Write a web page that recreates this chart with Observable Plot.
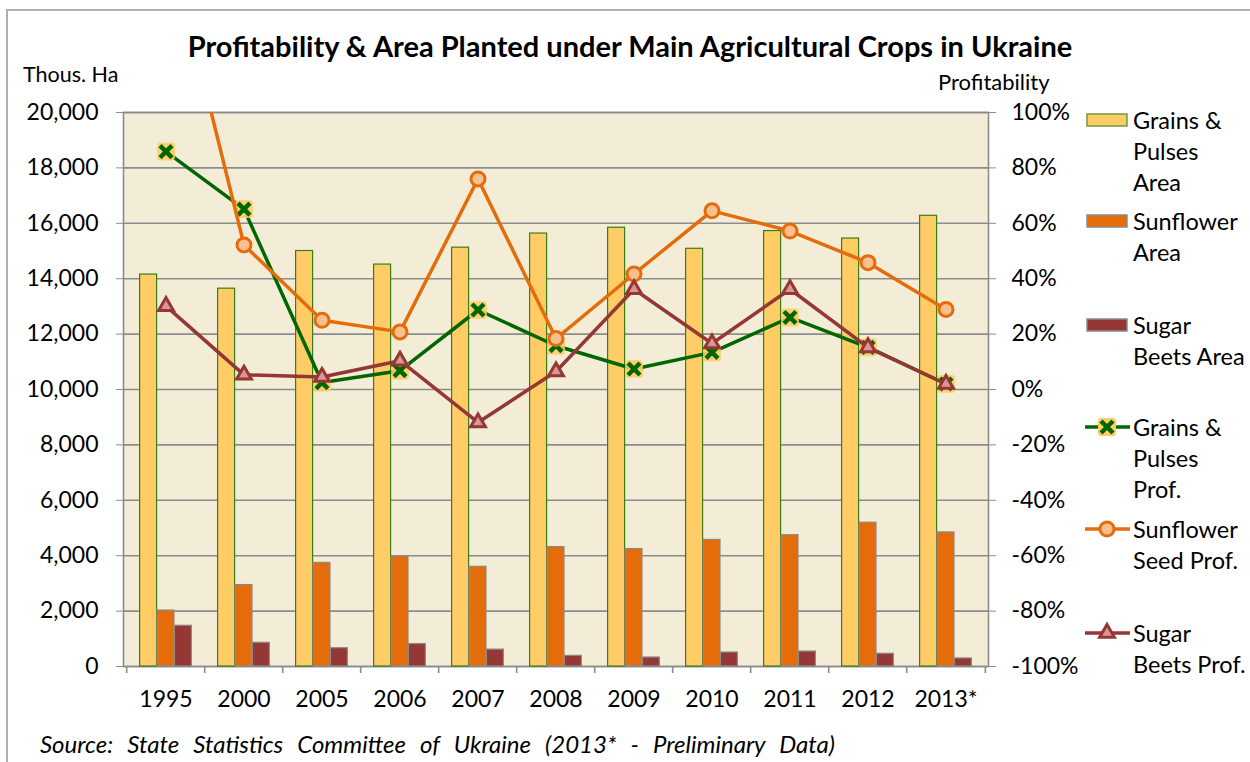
<!DOCTYPE html>
<html><head><meta charset="utf-8">
<script src="https://cdn.jsdelivr.net/npm/d3@7"></script>
<script src="https://cdn.jsdelivr.net/npm/@observablehq/plot@0.6"></script>
<style>
body{margin:0;background:#fff;font-family:Lato,"Open Sans",sans-serif;color:#000;}
#wrap{position:relative;width:1250px;height:762px;overflow:hidden;background:#fff;}
#frame{position:absolute;left:6px;top:9px;width:1400px;height:900px;border-left:2px solid #b0b0b0;border-top:2px solid #b0b0b0;}
#chart{position:absolute;left:0;top:0;}
.t{position:absolute;white-space:nowrap;line-height:1;}
#title{left:0;width:1260px;text-align:center;top:31px;font-weight:700;font-size:29px;}
#ylab{left:23px;top:64px;font-size:21.5px;}
#y2lab{left:938px;top:71px;font-size:22px;}
#source{left:40px;top:732px;width:795px;font-style:italic;font-size:24px;text-align:justify;text-align-last:justify;white-space:normal;}
.leg{position:absolute;left:1133px;font-size:23.5px;line-height:31px;white-space:nowrap;}
.sw{position:absolute;left:1082px;}
</style></head><body>
<div id="wrap">
  <div id="frame"></div>
  <div id="chart"></div>
  <div class="t" id="title">Profitability &amp; Area Planted under Main Agricultural Crops in Ukraine</div>
  <div class="t" id="ylab">Thous. Ha</div>
  <div class="t" id="y2lab">Profitability</div>
  <div class="t" id="source">Source: State Statistics Committee of Ukraine (2013* - Preliminary Data)</div>
</div>
<script>
// ---- data ----
const years = ["1995","2000","2005","2006","2007","2008","2009","2010","2011","2012","2013*"];
const grainsArea    = [14150,13640,15000,14510,15120,15630,15840,15080,15720,15450,16270];
const sunflowerArea = [2020,2940,3740,3970,3600,4310,4240,4570,4740,5190,4840];
const sugarArea     = [1470,856,660,810,610,385,325,505,540,460,290];
const grainsProf    = [85.9,65.1,2.5,6.8,28.7,15.8,7.4,13.4,26.0,15.2,2.0];
const sunflowerProf = [166,52.2,25.0,20.8,76.0,18.4,41.7,64.5,57.2,45.8,28.9];
const sugarProf     = [30.1,5.3,4.5,10.4,-11.9,6.5,36.2,16.6,36.2,15.2,2.0];
const areaTicks = [0,2000,4000,6000,8000,10000,12000,14000,16000,18000,20000];
const profTicks = [-100,-80,-60,-40,-20,0,20,40,60,80,100];
const legendLabels = [
  ["Grains &", "Pulses", "Area"],
  ["Sunflower", "Area"],
  ["Sugar", "Beets Area"],
  ["Grains &", "Pulses", "Prof."],
  ["Sunflower", "Seed Prof."],
  ["Sugar", "Beets Prof."]
];

// ---- layout / style ----
const W = 1250, H = 762, ML = 123, MR = 262, MT = 112, MB = 96;
const step = (W - ML - MR) / years.length;
const bw = 17.4;
const pI = 1 - bw / step;
const C = {
  bg: "#F3EDD7", grid: "#8C8C8C",
  grainFill: "#FFCC66", grainStroke: "#3C7D14",
  sunFill: "#E46C0A", sugarFill: "#953735", barStroke: "#8A8A8A",
  green: "#006600", orange: "#E46C0A", maroon: "#953735",
  circleFill: "#FAC090", triFill: "#D99694"
};
// profitability (%) mapped onto the area axis
const pToY = p => (p + 100) * 100;

const rows = years.map((year, i) => ({
  year, grains: grainsArea[i], sunflower: sunflowerArea[i], sugar: sugarArea[i],
  gp: pToY(grainsProf[i]), sp: pToY(sunflowerProf[i]), bp: pToY(sugarProf[i])
}));

const roundSquare = {draw(ctx, size) {
  const s = Math.sqrt(size) / 2, r = s * 0.35;
  ctx.moveTo(-s + r, -s); ctx.lineTo(s - r, -s); ctx.arcTo(s, -s, s, -s + r, r);
  ctx.lineTo(s, s - r); ctx.arcTo(s, s, s - r, s, r);
  ctx.lineTo(-s + r, s); ctx.arcTo(-s, s, -s, s - r, r);
  ctx.lineTo(-s, -s + r); ctx.arcTo(-s, -s, -s + r, -s, r); ctx.closePath();
}};

const plotH = H - MT - MB;
const chart = Plot.plot({
  width: W, height: H, marginLeft: ML, marginRight: MR, marginTop: MT, marginBottom: MB,
  style: {fontFamily: "Lato, 'Open Sans', sans-serif", fontSize: "23px", color: "#000", background: "transparent", overflow: "visible"},
  x: {type: "band", domain: years, paddingInner: pI, paddingOuter: pI / 2, label: null},
  y: {domain: [0, 20000], label: null},
  marks: [
    Plot.frame({fill: C.bg, stroke: null}),
    Plot.ruleY(areaTicks, {stroke: C.grid, strokeWidth: 1.6}),
    Plot.frame({stroke: C.grid, strokeWidth: 1.6}),
    Plot.axisY({anchor: "left", ticks: areaTicks, tickFormat: d3.format(","), tickSize: 7, tickPadding: 18, stroke: C.grid, fill: "#000", fontSize: 23, label: null}),
    Plot.axisY({anchor: "right", ticks: profTicks.map(pToY), tickFormat: v => Math.round(v / 100 - 100) + "%", tickSize: 7, tickPadding: 16, stroke: C.grid, fill: "#000", fontSize: 23, label: null}),
    Plot.axisX({tickSize: 0, tickPadding: 24, fill: "#000", fontSize: 23, label: null}),
    Plot.ruleX(years, {x: d => d, dx: -step / 2, insetTop: plotH, insetBottom: -7, stroke: C.grid, strokeWidth: 1.6}),
    Plot.ruleX(years.slice(-1), {x: d => d, dx: step / 2, insetTop: plotH, insetBottom: -7, stroke: C.grid, strokeWidth: 1.6}),
    Plot.barY(rows, {x: "year", y: "grains", dx: -bw, fill: C.grainFill, stroke: C.grainStroke, strokeWidth: 1.2}),
    Plot.barY(rows, {x: "year", y: "sunflower", fill: C.sunFill, stroke: C.barStroke, strokeWidth: 1.2}),
    Plot.barY(rows, {x: "year", y: "sugar", dx: bw, fill: C.sugarFill, stroke: C.barStroke, strokeWidth: 1.2}),
    Plot.line(rows, {x: "year", y: "gp", stroke: C.green, strokeWidth: 3.5, clip: true}),
    Plot.dot(rows, {x: "year", y: "gp", symbol: roundSquare, r: 10, fill: C.grainFill, fillOpacity: 0.9}),
    Plot.dot(rows, {x: "year", y: "gp", symbol: "times", r: 5.5, stroke: C.green, strokeWidth: 4.5}),
    Plot.line(rows, {x: "year", y: "sp", stroke: C.orange, strokeWidth: 3.5, clip: true}),
    Plot.dot(rows, {x: "year", y: "sp", r: 7, fill: C.circleFill, stroke: C.orange, strokeWidth: 3, clip: true}),
    Plot.line(rows, {x: "year", y: "bp", stroke: C.maroon, strokeWidth: 3.5, clip: true}),
    Plot.dot(rows, {x: "year", y: "bp", symbol: "triangle", r: 5.5, fill: C.triFill, stroke: C.maroon, strokeWidth: 3})
  ]
});
document.getElementById("chart").appendChild(chart);

// ---- legend ----
const wrap = d3.select("#wrap");
const legendTops = [120, 221, 325, 427, 529, 633];
const swatch = [
  g => g.append("rect").attr("x", 5).attr("y", -6).attr("width", 40).attr("height", 12).attr("fill", C.grainFill).attr("stroke", "#6B9A3A").attr("stroke-width", 1.5),
  g => g.append("rect").attr("x", 5).attr("y", -6).attr("width", 40).attr("height", 12).attr("fill", C.sunFill).attr("stroke", C.barStroke).attr("stroke-width", 1.5),
  g => g.append("rect").attr("x", 5).attr("y", -6).attr("width", 40).attr("height", 12).attr("fill", C.sugarFill).attr("stroke", C.barStroke).attr("stroke-width", 1.5),
  g => { g.append("line").attr("x1", 3).attr("x2", 48).attr("stroke", C.green).attr("stroke-width", 3.5);
         g.append("rect").attr("x", 16).attr("y", -9).attr("width", 18).attr("height", 18).attr("rx", 3).attr("fill", C.grainFill);
         g.append("path").attr("d", "M19,-6L31,6M19,6L31,-6").attr("stroke", C.green).attr("stroke-width", 4.5); },
  g => { g.append("line").attr("x1", 3).attr("x2", 48).attr("stroke", C.orange).attr("stroke-width", 3.5);
         g.append("circle").attr("cx", 25).attr("r", 7).attr("fill", C.circleFill).attr("stroke", C.orange).attr("stroke-width", 3); },
  g => { g.append("line").attr("x1", 3).attr("x2", 48).attr("stroke", C.maroon).attr("stroke-width", 3.5);
         g.append("path").attr("d", d3.symbol(d3.symbolTriangle, Math.PI * 5.5 * 5.5)()).attr("transform", "translate(25,0)").attr("fill", C.triFill).attr("stroke", C.maroon).attr("stroke-width", 3); }
];
legendLabels.forEach((lines, i) => {
  const cy = legendTops[i];
  const svg = wrap.append("svg").attr("class", "sw").attr("width", 52).attr("height", 24)
    .style("top", (cy - 12) + "px").attr("overflow", "visible");
  swatch[i](svg.append("g").attr("transform", "translate(0,12)"));
  const div = wrap.append("div").attr("class", "leg").style("top", (cy - 15.5) + "px");
  div.html(lines.map(s => s.replace("&", "&amp;")).join("<br>"));
});
</script>
</body></html>
